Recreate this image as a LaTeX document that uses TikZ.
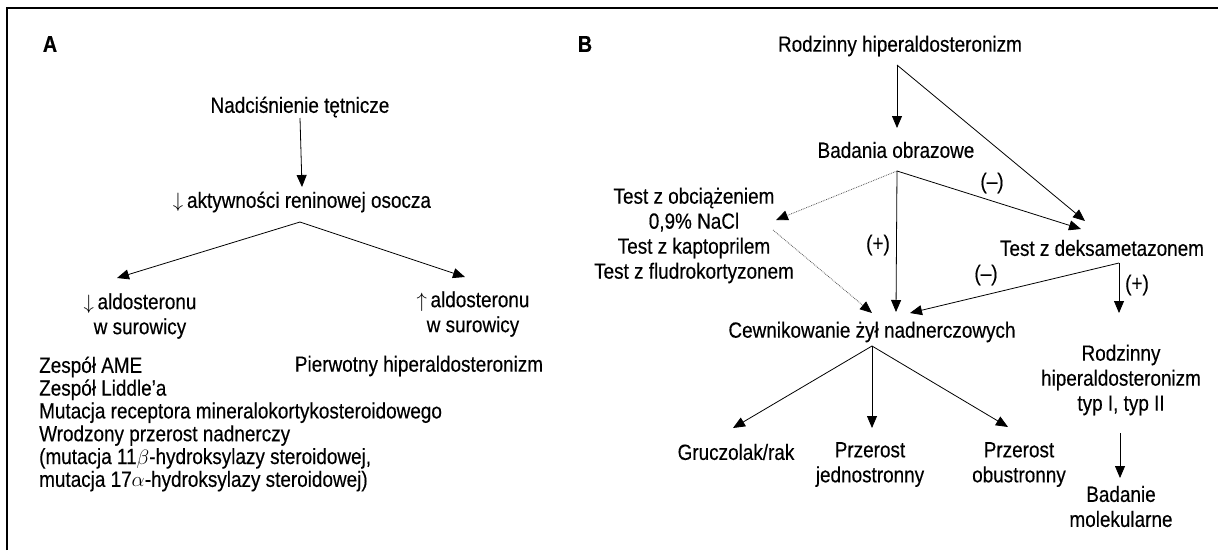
\documentclass[tikz,border=0pt]{standalone}
\usepackage{fontspec}
\setmainfont[FakeStretch=0.86,FakeBold=0.35]{Liberation Sans}
\usetikzlibrary{arrows.meta,calc}
\begin{document}
\begin{tikzpicture}[x=1pt,y=-1pt,
    font=\fontsize{22}{25}\selectfont,
    txt/.style={inner sep=0pt,align=center},
    arr/.style={-{Triangle[length=12pt,width=10pt,color=black]},line width=0.8pt},
    dotarr/.style={arr,densely dotted,gray!70!black}]
\useasboundingbox (0,0) rectangle (1218,550);
\draw[line width=1.6pt] (7,550) -- (7,8) -- (1218,8);

% panel A
\node[txt,font=\fontsize{23}{25}\selectfont\bfseries] (lblA) at (50,44) {A};
\node[txt] (nad) at (300,107) {Nadciśnienie tętnicze};
\node[txt] (ren) at (302,202) {$\downarrow$\,aktywności reninowej osocza};
\node[txt] (aldL) at (140,316) {$\downarrow$\,aldosteronu\\w surowicy};
\node[txt] (aldR) at (473,314) {$\uparrow$\,aldosteronu\\w surowicy};
\node[txt,align=left,anchor=west,font=\fontsize{22}{22.8}\selectfont] (list) at (39,424)
    {Zespół AME\\Zespół Liddle’a\\Mutacja receptora mineralokortykosteroidowego\\
     Wrodzony przerost nadnerczy\\(mutacja 11$\beta$-hydroksylazy steroidowej,\\
     mutacja 17$\alpha$-hydroksylazy steroidowej)};
\node[txt] (pierw) at (419,366) {Pierwotny hiperaldosteronizm};

\coordinate (renF) at ($(ren)+(-2,20)$);
\draw[arr] ($(nad)+(0,11)$) -- ($(ren)+(0,-15)$);
\draw[arr] (renF) -- ($(aldL)+(-23,-38)$);
\draw[arr] (renF) -- ($(aldR)+(-8,-37)$);

% panel B
\node[txt,font=\fontsize{23}{25}\selectfont\bfseries] (lblB) at (585,44) {B};
\node[txt] (rodz) at (900,46) {Rodzinny hiperaldosteronizm};
\node[txt] (bad) at (896,150) {Badania obrazowe};
\node[txt] (testy) at (694,235.5) {Test z obciążeniem\\0,9\% NaCl\\Test z kaptoprilem\\Test z fludrokortyzonem};
\node[txt] (deks) at (1102,248) {Test z deksametazonem};
\node[txt] (cewn) at (872,332) {Cewnikowanie żył nadnerczowych};
\node[txt] (grucz) at (736,452) {Gruczolak/rak};
\node[txt] (jedn) at (870,464.5) {Przerost\\jednostronny};
\node[txt] (obu) at (1019,464.5) {Przerost\\obustronny};
\node[txt] (typ) at (1121,380) {Rodzinny\\hiperaldosteronizm\\typ I, typ II};
\node[txt] (mol) at (1121,506.5) {Badanie\\molekularne};
\node[txt] (neg1) at (992,183) {(–)};
\node[txt] (pos1) at (878,245) {(+)};
\node[txt] (neg2) at (986,275) {(–)};
\node[txt] (pos2) at (1137,285) {(+)};

\coordinate (rodzF) at ($(rodz)+(-3,19)$);
\coordinate (badF) at ($(bad)+(1,21)$);
\coordinate (deksF) at ($(deks)+(17,15)$);
\coordinate (cewnF) at ($(cewn)+(0,14)$);
\draw[arr] (rodzF) -- ($(bad)+(1,-22)$);
\draw[arr] (rodzF) -- ($(deks)+(-17,-27)$);
\draw[dotarr] (badF) -- ($(testy)+(82,-15.5)$);
\draw[arr] (badF) -- ($(cewn)+(24,-20)$);
\draw[arr] (badF) -- ($(deks)+(-21,-19)$);
\draw[dotarr] ($(testy)+(79,-5.5)$) -- ($(cewn)+(0,-19)$);
\draw[arr] (deksF) -- ($(cewn)+(38,-19)$);
\draw[arr] (deksF) -- ($(typ)+(-2,-67)$);
\draw[arr] (cewnF) -- ($(grucz)+(-3,-24)$);
\draw[arr] (cewnF) -- ($(jedn)+(2,-36.5)$);
\draw[arr] (cewnF) -- ($(obu)+(-11,-37.5)$);
\draw[arr] ($(typ)+(-1,53)$) -- ($(mol)+(-1,-28.5)$); % to molecular test
\end{tikzpicture}
\end{document}
